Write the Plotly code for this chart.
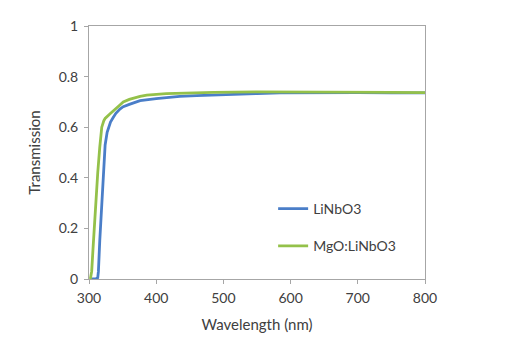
import plotly.graph_objects as go

# LiNbO3 (blue)
wl_linbo3 = [303, 306, 310, 313, 314, 316, 319, 321, 324, 327, 329, 332, 336, 340, 346, 351, 360, 376, 400, 415, 435, 460, 485, 520, 550, 584, 620, 660, 700, 750, 800]
tr_linbo3 = [0, 0, 0, 0.005, 0.03, 0.15, 0.29, 0.42, 0.53, 0.58, 0.60, 0.62, 0.638, 0.655, 0.672, 0.681, 0.69, 0.705, 0.713, 0.718, 0.722, 0.725, 0.728, 0.731, 0.733, 0.736, 0.737, 0.737, 0.737, 0.736, 0.736]

# MgO:LiNbO3 (green)
wl_mgo = [302, 304, 306, 308, 310, 313, 316, 319, 322, 324, 331, 336, 341, 346, 351, 360, 376, 386, 415, 435, 485, 550, 620, 700, 750, 800]
tr_mgo = [0, 0.03, 0.12, 0.22, 0.30, 0.42, 0.52, 0.60, 0.625, 0.635, 0.652, 0.663, 0.675, 0.688, 0.700, 0.710, 0.722, 0.727, 0.733, 0.735, 0.738, 0.740, 0.740, 0.739, 0.738, 0.737]

x_ticks = [300, 400, 500, 600, 700, 800]
y_ticks = [0, 0.2, 0.4, 0.6, 0.8, 1]
y_ticklabels = ["0", "0.2", "0.4", "0.6", "0.8", "1"]

FONT = "Lato"
TXT = "#404040"
AX = "#A6A6A6"

fig = go.Figure()
fig.add_trace(go.Scatter(x=wl_linbo3, y=tr_linbo3, mode="lines", name="LiNbO3",
                         line=dict(color="#4A7EC8", width=2.8), legendgroup="a"))
fig.add_trace(go.Scatter(x=wl_mgo, y=tr_mgo, mode="lines", name="MgO:LiNbO3",
                         line=dict(color="#94C14A", width=2.8), legendgroup="b"))

fig.update_layout(
    width=518, height=346,
    margin=dict(l=89, r=93, t=26, b=67),
    paper_bgcolor="white", plot_bgcolor="white",
    font=dict(family=FONT, size=14, color=TXT),
    showlegend=True,
    legend=dict(x=0.548, y=0.34, xanchor="left", yanchor="top",
                bgcolor="rgba(0,0,0,0)", tracegroupgap=16,
                font=dict(family=FONT, size=14, color=TXT)),
    xaxis=dict(range=[300, 800], tickvals=x_ticks, ticks="outside", ticklen=4,
               tickcolor=AX, showline=True, linecolor=AX, linewidth=1, mirror=True,
               showgrid=False, zeroline=False, tickfont=dict(size=14), ticklabelstandoff=2,
               title=dict(text="Wavelength (nm)", font=dict(family=FONT, size=15, color=TXT), standoff=14)),
    yaxis=dict(range=[0, 1], tickvals=y_ticks, ticktext=y_ticklabels, ticks="outside", ticklen=4,
               tickcolor=AX, showline=True, linecolor=AX, linewidth=1, mirror=True,
               showgrid=False, zeroline=False, tickfont=dict(size=14), ticklabelstandoff=3,
               title=dict(text="Transmission", font=dict(family=FONT, size=15, color=TXT), standoff=14)),
)

fig.write_html("out.html")
